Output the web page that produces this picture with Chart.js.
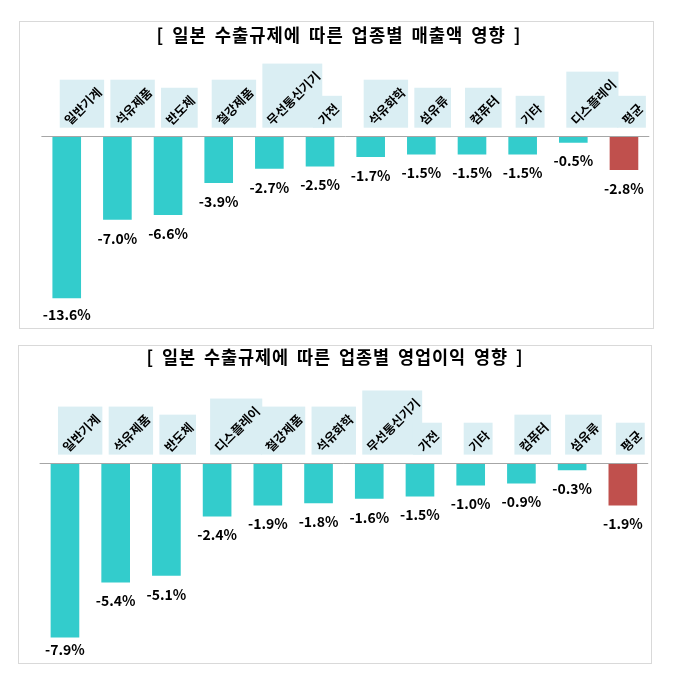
<!DOCTYPE html>
<html>
<head>
<meta charset="utf-8">
<script src="https://cdn.jsdelivr.net/npm/chart.js@4.4.1/dist/chart.umd.min.js"></script>
<style>
  html, body { margin: 0; padding: 0; background: #fff; }
  body { width: 680px; height: 690px; position: relative; overflow: hidden; }
  .panel { position: absolute; box-sizing: border-box; border: 1px solid #d9d9d9; }
  canvas { position: absolute; }
</style>
</head>
<body>
<div class="panel" style="left:19px;top:21px;width:635px;height:308px;"></div>
<div class="panel" style="left:18px;top:345px;width:634px;height:319px;"></div>
<canvas id="c1" width="635" height="308" style="left:19px;top:21px;width:635px;height:308px;"></canvas>
<canvas id="c2" width="634" height="319" style="left:18px;top:345px;width:634px;height:319px;"></canvas>
<script>
// ---- data ----
const title1 = '[ 일본 수출규제에 따른 업종별 매출액 영향 ]';
const cats1 = ['일반기계','석유제품','반도체','철강제품','무선통신기기','가전','석유화학','섬유류','컴퓨터','기타','디스플레이','평균'];
const vals1 = [-13.6, -7.0, -6.6, -3.9, -2.7, -2.5, -1.7, -1.5, -1.5, -1.5, -0.5, -2.8];

const title2 = '[ 일본 수출규제에 따른 업종별 영업이익 영향 ]';
const cats2 = ['일반기계','석유제품','반도체','디스플레이','철강제품','석유화학','무선통신기기','가전','기타','컴퓨터','섬유류','평균'];
const vals2 = [-7.9, -5.4, -5.1, -2.4, -1.9, -1.8, -1.6, -1.5, -1.0, -0.9, -0.3, -1.9];

const TEAL = '#33CCCC';
const RED = '#C0504D';
const BOXFILL = '#DAEEF3';
const FONT = '"Noto Sans CJK KR", "Noto Sans", sans-serif';

const decor = {
  id: 'decor',
  afterDraw(chart, args, o) {
    const ctx = chart.ctx;
    const xs = chart.scales.x, ys = chart.scales.y;
    const area = chart.chartArea;
    const y0 = ys.getPixelForValue(0);
    const labels = chart.data.labels;
    const vals = chart.data.datasets[0].data;
    ctx.save();
    // title
    ctx.fillStyle = '#000';
    ctx.font = 'bold 18px ' + FONT;
    ctx.textAlign = 'center';
    ctx.textBaseline = 'middle';
    if ('letterSpacing' in ctx) ctx.letterSpacing = '1px';
    if ('wordSpacing' in ctx) ctx.wordSpacing = '3px';
    ctx.fillText(o.title, o.titleX, o.titleY, o.titleW);
    if ('letterSpacing' in ctx) ctx.letterSpacing = '0px';
    if ('wordSpacing' in ctx) ctx.wordSpacing = '0px';
    // zero axis line
    ctx.strokeStyle = '#a6a6a6';
    ctx.lineWidth = 1;
    ctx.beginPath();
    ctx.moveTo(area.left, Math.round(y0) - 0.5);
    ctx.lineTo(area.right, Math.round(y0) - 0.5);
    ctx.stroke();
    // category label boxes
    const fs = 12.5;
    ctx.font = 'bold ' + fs + 'px ' + FONT;
    const boxes = labels.map((lab, i) => {
      const cx = xs.getPixelForValue(i);
      const tw = ctx.measureText(lab).width;
      const w = 0.674 * tw + 13.4;
      const h = 0.70 * tw + 15.8;
      const bottom = y0 - 9;
      const left = cx - 7;
      return { lab, left, top: bottom - h, w, h };
    });
    ctx.fillStyle = BOXFILL;
    boxes.forEach(b => ctx.fillRect(b.left, b.top, b.w, b.h));
    ctx.fillStyle = '#000';
    ctx.textAlign = 'center';
    ctx.textBaseline = 'middle';
    boxes.forEach(b => {
      ctx.save();
      ctx.translate(b.left + b.w / 2 + 1, b.top + b.h / 2 + 2.5);
      ctx.rotate(-Math.PI / 4);
      ctx.fillText(b.lab, 0, 0);
      ctx.restore();
    });
    // value labels
    ctx.font = 'bold 14px ' + FONT;
    const meta = chart.getDatasetMeta(0);
    meta.data.forEach((bar, i) => {
      let y = bar.y + 18.5;
      y = Math.min(y, chart.height - 14);
      ctx.fillText(vals[i].toFixed(1) + '%', bar.x, y);
    });
    ctx.restore();
  }
};

function makeChart(id, labels, values, yMin, padding, titleOpts) {
  const last = labels.length - 1;
  return new Chart(document.getElementById(id), {
    type: 'bar',
    data: {
      labels: labels,
      datasets: [{
        data: values,
        backgroundColor: labels.map((_, i) => i === last ? RED : TEAL),
        borderWidth: 0,
        categoryPercentage: 1.0,
        barPercentage: 0.565
      }]
    },
    options: {
      responsive: false,
      animation: false,
      devicePixelRatio: 1,
      layout: { padding: padding },
      scales: {
        x: { display: false },
        y: { display: false, min: yMin, max: 0 }
      },
      plugins: {
        legend: { display: false },
        tooltip: { enabled: false },
        title: { display: false },
        decor: titleOpts
      }
    },
    plugins: [decor]
  });
}

makeChart('c1', cats1, vals1, -15, { left: 22.4, right: 4.7, top: 115.7, bottom: 14.1 },
  { title: title1, titleX: 320, titleY: 14.5, titleW: 365 });
makeChart('c2', cats2, vals2, -8.5, { left: 21.6, right: 3.8, top: 118.6, bottom: 13.4 },
  { title: title2, titleX: 317, titleY: 12.5, titleW: 377 });
</script>
</body>
</html>
